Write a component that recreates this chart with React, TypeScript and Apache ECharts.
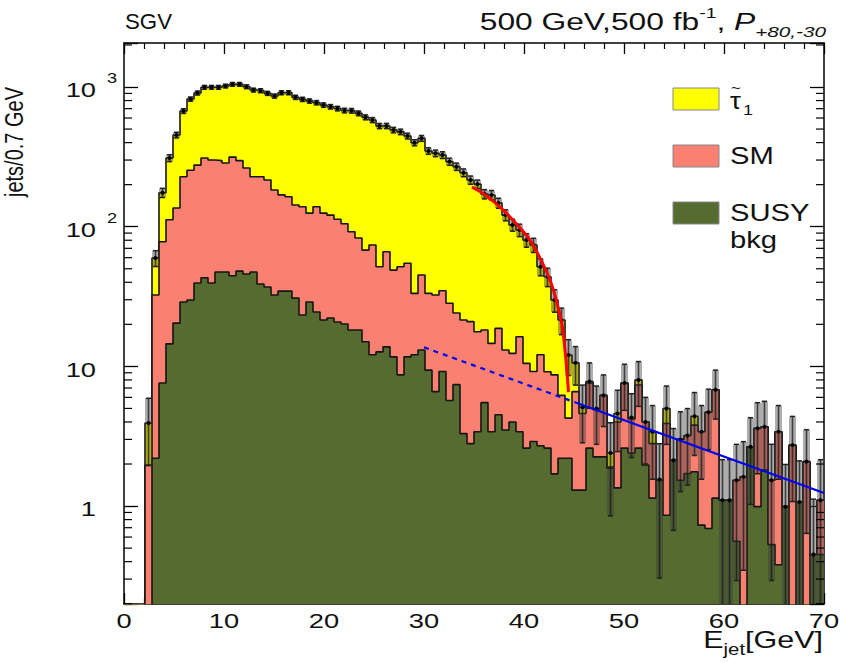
import React, { useEffect, useRef } from 'react';
import * as echarts from 'echarts';

// ---------------- data (jets per 0.7 GeV bin, bins start at 0 GeV) ----------------
const BIN_WIDTH = 0.7;
const SUSY_BKG = [
  0, 0, 0, 0, 2.2, 7.6, 14.5, 20.4, 28.9, 29.9,
  39.5, 43.1, 39.5, 47.4, 47.4, 44.6, 48.1, 45.8, 47.4, 38.9,
  37.0, 32.4, 34.6, 34.6, 30.8, 23.3, 28.9, 24.5, 21.5, 22.2,
  20.8, 20.1, 18.2, 18.2, 15.0, 12.1, 12.7, 13.8, 11.7, 8.7,
  11.7, 12.1, 13.1, 9.4, 6.6, 9.2, 5.7, 7.4, 3.3, 2.8,
  3.4, 5.5, 3.4, 4.5, 3.5, 4.0, 3.4, 2.6, 2.9, 2.7,
  2.6, 1.7, 2.2, 2.2, 1.3, 1.3, 2.6, 2.25, 2.25, 1.87,
  1.35, 2.6, 2.4, 2.6, 1.97, 1.14, 1.53, 0.86, 2.13, 1.53,
  1.71, 1.76, 0.73, 0.69, 1.14, 1.1, 1.1, 0.56, 0, 2.66,
  0.99, 1.81, 0.53, 0.38, 0.99, 0, 1.07, 0, 0.45, 0.45,
];
const SM = [
  0, 0, 0, 1.97, 30.2, 70.5, 97.5, 115.6, 199, 224,
  236.5, 267, 260.5, 249.6, 238.6, 270.4, 248.9, 217.2, 180.6, 189.1,
  179, 150.6, 134.4, 129.4, 112.2, 115.7, 96.1, 114.5, 103.5, 98.8,
  92.2, 84.9, 73.8, 64.8, 53, 61.8, 39, 52.4, 37.2, 43,
  43, 21.2, 32, 23.9, 25.8, 25.6, 22.6, 16.7, 18.2, 18.1,
  14.3, 12.7, 11.2, 14.2, 9.6, 8.4, 12.9, 7.9, 6.3, 9.4,
  6.55, 7.0, 4.0, 2.06, 5.3, 3.3, 5.0, 2.65, 3.95, 0.03,
  2.65, 5.0, 1.8, 4.75, 2.03, 1.66, 0, 3.04, 0, 1.47,
  1.49, 2.04, 2.67, 4.01, 5.66, 0, 0, 0.97, 1.62, 0,
  2.61, 1.89, 1.0, 3.02, 0, 2.73, 0, 2.08, 0, 0.65,
];
const STAU = [
  0, 0, 0, 1.96, 27.2, 96.9, 198, 317, 445, 566,
  630, 685, 695, 698, 730, 730, 748, 742, 723, 713,
  685, 679, 741, 746, 701, 677, 669, 633, 618, 601,
  588, 574, 584, 565, 539, 506, 474, 460, 443, 426,
  391, 366, 384, 315, 303, 291, 264, 245, 222, 195,
  184, 153, 154, 129, 108, 90.6, 78.3, 69.7, 64.8, 39.6,
  34.7, 21.2, 15.3, 7.8, 4.0, 0.49, 0.2, 0.1, 0, 0.5,
  0.6, 0, 0.1, 0.65, 0, 0.6, 0.02, 1.1, 0, 0,
  0, 0.6, 0, 0, 0, 0, 0, 0, 0, 0,
  0, 0, 0, 0, 0, 0, 0, 0, 0, 0,
];
// fitted end-point curve (x in GeV, jets)
const RED_FIT = [
  [34.8, 192], [36, 171], [37.9, 132], [39.6, 97.8], [40.6, 80.2], [41.6, 59.6],
  [42.6, 41.5], [43.3, 28.4], [43.8, 19.8], [44.1, 13.1], [44.3, 9.1], [44.45, 6.55],
];
const BLUE_FIT_DASHED = [[30, 13.7], [45.5, 5.4]];
const BLUE_FIT_SOLID = [[45.5, 5.4], [70, 1.24]];

const X_TICKS = [0, 10, 20, 30, 40, 50, 60, 70];
const Y_TICKS = [
  { v: 1, base: '1', exp: '' },
  { v: 10, base: '10', exp: '' },
  { v: 100, base: '10', exp: '2' },
  { v: 1000, base: '10', exp: '3' },
];
const Y_MIN = 0.199;
const Y_MAX = 2066;
const X_MIN = 0;
const X_MAX = 70;

// ---------------- helpers ----------------
const FONT = '"Liberation Sans", Arial, Helvetica, sans-serif';
const SX = 1.27;
const FLOOR = 0.02;

function measure(text: string, size: number, italic = false): number {
  const c = document.createElement('canvas').getContext('2d') as CanvasRenderingContext2D;
  c.font = `${italic ? 'italic ' : ''}${size}px ${FONT}`;
  return c.measureText(text).width;
}

type Piece = { t: string; s: number; it?: boolean; dy?: number };

function textRun(x: number, y: number, pieces: Piece[], align: 'left' | 'right' | 'center', sx = SX, color = '#111'): any[] {
  const widths = pieces.map((p) => measure(p.t, p.s, p.it) * sx);
  const total = widths.reduce((a, b) => a + b, 0);
  let cx = align === 'left' ? x : align === 'right' ? x - total : x - total / 2;
  return pieces.map((p, i) => {
    const el = {
      type: 'text',
      x: cx,
      y: y + (p.dy || 0),
      scaleX: sx,
      z: 100,
      silent: true,
      style: {
        text: p.t,
        fontSize: p.s,
        fontFamily: FONT,
        fontStyle: p.it ? 'italic' : 'normal',
        fill: color,
        textAlign: 'left',
        align: 'left',
        textVerticalAlign: 'middle',
        verticalAlign: 'middle',
      },
    };
    cx += widths[i];
    return el;
  });
}

function stepData(vals: number[]): number[][] {
  const pts = vals.map((v, i) => [+(i * BIN_WIDTH).toFixed(2), v > 0 ? v : FLOOR]);
  const last = vals[vals.length - 1];
  pts.push([+(vals.length * BIN_WIDTH).toFixed(2), last > 0 ? last : FLOOR]);
  return pts;
}

export default function App() {
  const ref = useRef<HTMLDivElement>(null);

  useEffect(() => {
    if (!ref.current) return;
    const chart = echarts.init(ref.current, null, { renderer: 'svg' });

    const cumGreen = SUSY_BKG.slice();
    const cumSM = SUSY_BKG.map((v, i) => v + SM[i]);
    const total = cumSM.map((v, i) => v + STAU[i]);

    const errData: number[][] = [];
    total.forEach((v, i) => {
      if (v > 0) errData.push([(i + 0.5) * BIN_WIDTH, v, Math.sqrt(v), i * BIN_WIDTH, (i + 1) * BIN_WIDTH]);
    });

    const minorTicks: number[][] = [];
    [0.1, 1, 10, 100, 1000].forEach((d) => {
      for (let m = 2; m <= 9; m++) {
        const v = m * d;
        if (v > Y_MIN && v < Y_MAX) minorTicks.push([0, v]);
      }
    });

    const xAxisBase = {
      type: 'value',
      min: X_MIN,
      max: X_MAX,
      interval: 10,
      axisLine: { show: true, onZero: false, lineStyle: { color: '#000', width: 1.5 } },
      axisTick: { show: true, inside: true, length: 11, lineStyle: { color: '#000', width: 1.3 } },
      minorTick: { show: true, splitNumber: 5, length: 6, lineStyle: { color: '#000', width: 1.2 } },
      axisLabel: { show: false },
      splitLine: { show: false },
      minorSplitLine: { show: false },
    };
    const yAxisBase = {
      type: 'log',
      logBase: 10,
      min: Y_MIN,
      max: Y_MAX,
      axisLine: { show: true, onZero: false, lineStyle: { color: '#000', width: 1.5 } },
      axisTick: { show: true, inside: true, length: 14, lineStyle: { color: '#000', width: 1.3 } },
      minorTick: { show: false },
      axisLabel: { show: false },
      splitLine: { show: false },
    };

    const histLine = (name: string, vals: number[], fill: string, z: number) => ({
      name,
      type: 'line',
      data: stepData(vals),
      step: 'end',
      symbol: 'none',
      clip: true,
      z,
      lineStyle: { color: '#151515', width: 1.6 },
      areaStyle: { color: fill, opacity: 1, origin: 'start' },
    });

    const option: any = {
      animation: false,
      backgroundColor: '#ffffff',
      grid: { left: 124, right: 17, top: 43, bottom: 59, outerBoundsMode: 'none', containLabel: false },
      xAxis: [
        { ...xAxisBase, position: 'bottom' },
        { ...xAxisBase, position: 'top' },
      ],
      yAxis: [
        { ...yAxisBase, position: 'left' },
        { ...yAxisBase, position: 'right' },
      ],
      series: [
        histLine('stau', total, '#ffff00', 2),
        histLine('SM', cumSM, '#fa8072', 3),
        histLine('SUSY bkg', cumGreen, '#556b2f', 4),
        {
          type: 'custom',
          name: 'errors',
          z: 6,
          data: errData,
          renderItem: (params: any, api: any) => {
            const cs = params.coordSys;
            const xc0 = api.value(0);
            const v = api.value(1);
            const e = api.value(2);
            const x0 = api.value(3);
            const x1 = api.value(4);
            const lo = Math.max(v - e, 1e-3);
            const clampY = (y: number) => Math.min(Math.max(y, cs.y), cs.y + cs.height);
            const pTop = api.coord([x0, v + e]);
            const pBot = api.coord([x1, lo]);
            const pc = api.coord([xc0, v]);
            const yt = clampY(pTop[1]);
            const yb = clampY(pBot[1]);
            const xc = pc[0];
            const children: any[] = [
              {
                type: 'rect',
                shape: { x: pTop[0], y: yt, width: pBot[0] - pTop[0], height: yb - yt },
                style: { fill: 'rgba(60,60,60,0.42)' },
              },
              {
                type: 'line',
                shape: { x1: xc, y1: yt, x2: xc, y2: yb },
                style: { stroke: 'rgba(25,25,25,0.75)', lineWidth: 1.6 },
              },
              {
                type: 'line',
                shape: { x1: xc - 2.5, y1: yt, x2: xc + 2.5, y2: yt },
                style: { stroke: '#222', lineWidth: 1.5 },
              },
            ];
            if (yb < cs.y + cs.height) {
              children.push({
                type: 'line',
                shape: { x1: xc - 2.5, y1: yb, x2: xc + 2.5, y2: yb },
                style: { stroke: '#222', lineWidth: 1.5 },
              });
            }
            children.push({ type: 'circle', shape: { cx: xc, cy: pc[1], r: 2 }, style: { fill: '#000' } });
            return { type: 'group', children };
          },
        },
        {
          type: 'line',
          name: 'endpoint fit',
          data: RED_FIT,
          smooth: 0.4,
          symbol: 'none',
          z: 7,
          lineStyle: { color: '#ff0000', width: 3 },
        },
        {
          type: 'line',
          name: 'bkg fit dashed',
          data: BLUE_FIT_DASHED,
          symbol: 'none',
          z: 7,
          lineStyle: { color: '#0000ee', width: 2.2, type: [5, 5] },
        },
        {
          type: 'line',
          name: 'bkg fit',
          data: BLUE_FIT_SOLID,
          symbol: 'none',
          z: 7,
          lineStyle: { color: '#0000ee', width: 2.2 },
        },
        {
          type: 'custom',
          name: 'minor ticks',
          z: 8,
          silent: true,
          data: minorTicks,
          renderItem: (params: any, api: any) => {
            const cs = params.coordSys;
            const y = api.coord([0, api.value(1)])[1];
            return {
              type: 'group',
              children: [
                { type: 'line', shape: { x1: cs.x, y1: y, x2: cs.x + 8, y2: y }, style: { stroke: '#000', lineWidth: 1.2 } },
                { type: 'line', shape: { x1: cs.x + cs.width - 8, y1: y, x2: cs.x + cs.width, y2: y }, style: { stroke: '#000', lineWidth: 1.2 } },
              ],
            };
          },
        },
      ],
    };

    chart.setOption(option);

    const g: any[] = [];
    // tick labels positioned through the axes
    X_TICKS.forEach((v) => {
      const x = chart.convertToPixel({ xAxisIndex: 0 }, v) as number;
      g.push(...textRun(x, 621, [{ t: String(v), s: 21 }], 'center', 1.3));
    });
    Y_TICKS.forEach((t) => {
      const y = chart.convertToPixel({ yAxisIndex: 0 }, t.v) as number;
      g.push(...textRun(96, y + 3, [{ t: t.base, s: 21 }], 'right', 1.3));
      if (t.exp) g.push(...textRun(107, y - 9, [{ t: t.exp, s: 14 }], 'left', 1.3));
    });

    // titles
    g.push(...textRun(125, 21, [{ t: 'SGV', s: 23 }], 'left', 0.97));
    g.push(
      ...textRun(826, 22, [
        { t: '500 GeV,500 fb', s: 23 },
        { t: '-1', s: 14, dy: -9 },
        { t: ', ', s: 23 },
        { t: 'P', s: 23, it: true },
        { t: '+80,-30', s: 15, it: true, dy: 10 },
      ], 'right', 1.38)
    );
    g.push(
      ...textRun(823, 640, [
        { t: 'E', s: 24 },
        { t: 'jet', s: 16, dy: 9 },
        { t: '[GeV]', s: 24 },
      ], 'right', 1.27)
    );
    g.push({
      type: 'text',
      x: 14,
      y: 197,
      rotation: Math.PI / 2,
      scaleY: 1.3,
      z: 100,
      silent: true,
      style: {
        text: 'jets/0.7 GeV',
        fontSize: 20,
        fontFamily: FONT,
        fill: '#111',
        textAlign: 'left',
        align: 'left',
        textVerticalAlign: 'middle',
        verticalAlign: 'middle',
      },
    });

    // legend
    const legendBox = (y: number, color: string) => ({
      type: 'rect',
      z: 100,
      silent: true,
      shape: { x: 673, y, width: 46, height: 22 },
      style: { fill: color, stroke: '#888', lineWidth: 1 },
    });
    g.push(legendBox(88, '#ffff00'));
    g.push(legendBox(145, '#fa8072'));
    g.push(legendBox(202, '#556b2f'));
    g.push(...textRun(730, 101, [{ t: 'τ', s: 23 }], 'left', 1.2));
    g.push(...textRun(731, 88, [{ t: '~', s: 14 }], 'left', 1.2));
    g.push(...textRun(743, 110, [{ t: '1', s: 15 }], 'left', 1.2));
    g.push(...textRun(730, 156, [{ t: 'SM', s: 23 }], 'left', 1.27));
    g.push(...textRun(730, 213, [{ t: 'SUSY', s: 23 }], 'left', 1.27));
    g.push(...textRun(730, 240, [{ t: 'bkg', s: 23 }], 'left', 1.27));

    chart.setOption({ graphic: { elements: g } });

    return () => chart.dispose();
  }, []);

  return (
    <div
      ref={ref}
      style={{ position: 'fixed', left: 0, top: 0, width: 841, height: 663, background: '#fff' }}
    />
  );
}
